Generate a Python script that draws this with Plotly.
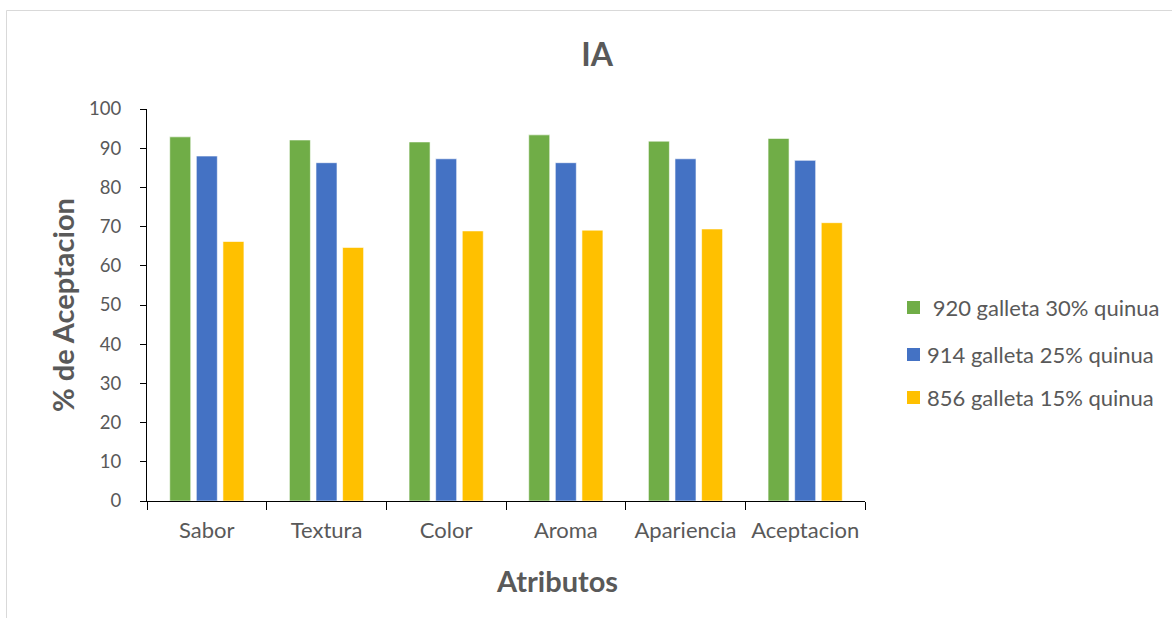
import plotly.graph_objects as go

# Sensory acceptance index (IA) per attribute for three cookie formulations
atributos = ["Sabor", "Textura", "Color", "Aroma", "Apariencia", "Aceptacion"]
muestra_920 = [92.9, 92.1, 91.6, 93.4, 91.8, 92.5]
muestra_914 = [88.0, 86.3, 87.3, 86.3, 87.3, 86.9]
muestra_856 = [66.2, 64.7, 68.9, 69.1, 69.4, 71.0]

nombres = ["\u00a0920 galleta 30% quinua", "914 galleta 25% quinua", "856 galleta 15% quinua"]
colores = ["#70AD47", "#4472C4", "#FFC000"]
valores = [muestra_920, muestra_914, muestra_856]

FONT = "Lato, Carlito, Calibri, sans-serif"
GRAY = "#595959"

W, H = 1172, 618
L, R, T, B = 147, 307, 109, 117
pw, ph = W - L - R, H - T - B


def px_x(px):
    return (px - L) / pw


def px_y(py):
    return (H - B - py) / ph


fig = go.Figure()
for nombre, vals, color in zip(nombres, valores, colores):
    fig.add_trace(go.Bar(
        x=atributos, y=vals, name=nombre, showlegend=False,
        marker=dict(color=color, line=dict(color="rgba(255,255,255,0.6)", width=1)),
    ))

# Legend drawn as colour swatches with labels to the right of the plot
shapes = [dict(type="rect", xref="paper", yref="paper",
               x0=px_x(6.5), x1=px_x(1180), y0=px_y(10.5), y1=px_y(630),
               line=dict(color="#D9D9D9", width=1), fillcolor="rgba(0,0,0,0)",
               layer="below")]
annotations = []
legend_rows = [307.5, 354.5, 397.5]
for nombre, color, yc in zip(nombres, colores, legend_rows):
    shapes.append(dict(type="rect", xref="paper", yref="paper",
                       x0=px_x(907), x1=px_x(920), y0=px_y(yc - 6.5), y1=px_y(yc + 6.5),
                       line=dict(width=0), fillcolor=color))
    annotations.append(dict(text=nombre, xref="paper", yref="paper",
                            x=px_x(925), y=px_y(yc), xanchor="left", yanchor="middle",
                            showarrow=False,
                            font=dict(family=FONT, size=22, color=GRAY)))

annotations.append(dict(text="<b>Atributos</b>", xref="paper", yref="paper",
                        x=px_x(557), y=px_y(580), xanchor="center", yanchor="middle",
                        showarrow=False, font=dict(family=FONT, size=29, color=GRAY)))
annotations.append(dict(text="<b>% de Aceptacion</b>", xref="paper", yref="paper",
                        x=px_x(62), y=px_y(305), xanchor="center", yanchor="middle",
                        textangle=-90, showarrow=False,
                        font=dict(family=FONT, size=29, color=GRAY)))

fig.update_layout(
    width=W, height=H,
    margin=dict(l=L, r=R, t=T, b=B),
    paper_bgcolor="white", plot_bgcolor="white",
    barmode="group", bargap=0.333, bargroupgap=0.21,
    font=dict(family=FONT, size=18, color=GRAY),
    title=dict(text="<b>IA</b>", x=px_x(597), xref="paper", xanchor="center",
               y=1 - 55 / H, yanchor="middle",
               font=dict(family=FONT, size=32, color=GRAY)),
    showlegend=False,
    shapes=shapes,
    annotations=annotations,
)

fig.update_xaxes(
    showline=True, linecolor="#000000", linewidth=1,
    ticks="outside", ticklen=8, tickcolor="#000000",
    tickson="boundaries", showgrid=False,
    ticklabelstandoff=10,
    tickfont=dict(family=FONT, size=22, color=GRAY),
)
fig.update_yaxes(
    range=[0, 100], dtick=10, showline=True, linecolor="#000000", linewidth=1,
    ticks="outside", ticklen=6, tickcolor="#000000", showgrid=False,
    zeroline=False, ticklabelstandoff=15,
    tickfont=dict(family=FONT, size=18.5, color=GRAY),
)

fig.write_html("out.html")
